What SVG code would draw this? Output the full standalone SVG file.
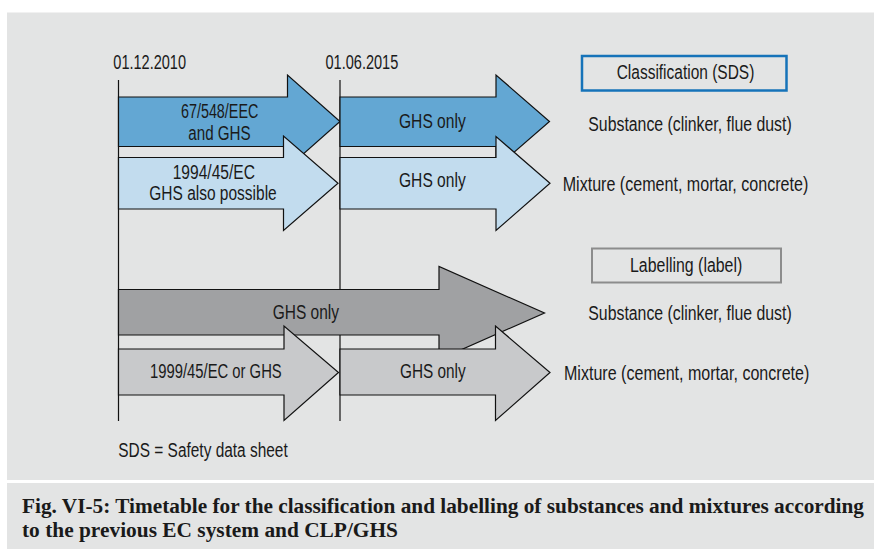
<svg xmlns="http://www.w3.org/2000/svg" width="874" height="549" viewBox="0 0 874 549">
<style>
.t{font-family:"Liberation Sans",Arial,sans-serif;font-size:20px;fill:#1a1a1a}
.cap{font-family:"Liberation Serif","Times New Roman",serif;font-size:20px;font-weight:bold;fill:#1a1a1a}
.ar{stroke:#111;stroke-width:1.2;stroke-linejoin:miter}
.db{fill:#63a7d3}
.lb{fill:#c2dcee}
.dg{fill:#a0a1a3}
.lg{fill:#c8c9cb}
.vl{stroke:#111;stroke-width:1.2}
</style>
<rect x="0" y="0" width="874" height="549" fill="#ffffff"/>
<rect x="7" y="12.5" width="867" height="467.5" fill="#e3e4e4"/>
<rect x="7" y="483" width="867" height="66" fill="#e3e4e4"/>
<g id="connectors">
<line class="vl" x1="118.5" y1="80" x2="118.5" y2="421"/>
<line class="vl" x1="340" y1="80" x2="340" y2="421"/>
</g>
<g id="date1"><text class="t" x="113.3" y="69.3" textLength="72.7" lengthAdjust="spacingAndGlyphs">01.12.2010</text></g>
<g id="date2"><text class="t" x="325.5" y="69.3" textLength="72.8" lengthAdjust="spacingAndGlyphs">01.06.2015</text></g>
<g id="arrowA">
<polygon class="ar db" points="118.5,97 287.5,97 287.5,75 340,121.5 287.5,168 287.5,146.5 118.5,146.5"/>
<text class="t" x="181" y="118.3" textLength="77.3" lengthAdjust="spacingAndGlyphs">67/548/EEC</text>
<text class="t" x="188.3" y="140" textLength="62.4" lengthAdjust="spacingAndGlyphs">and GHS</text>
</g>
<g id="arrowB">
<polygon class="ar lb" points="118.5,157.5 283.5,157.5 283.5,136 338,183.3 283.5,230.5 283.5,209 118.5,209"/>
<text class="t" x="172.7" y="179.3" textLength="82.3" lengthAdjust="spacingAndGlyphs">1994/45/EC</text>
<text class="t" x="149.3" y="200" textLength="127.4" lengthAdjust="spacingAndGlyphs">GHS also possible</text>
</g>
<g id="arrowC">
<polygon class="ar db" points="340,97 496,97 496,75 549.5,121.5 496,168 496,146.5 340,146.5"/>
<text class="t" x="399" y="128.3" textLength="66.7" lengthAdjust="spacingAndGlyphs">GHS only</text>
</g>
<g id="arrowD">
<polygon class="ar lb" points="340,157.5 496,157.5 496,136.5 550,183.3 496,230.5 496,209 340,209"/>
<text class="t" x="399" y="187.3" textLength="66.7" lengthAdjust="spacingAndGlyphs">GHS only</text>
</g>
<g id="arrowE">
<polygon class="ar dg" points="118.5,289.5 439,289.5 439,266.5 544.5,313 439,359.5 439,335 118.5,335"/>
<text class="t" x="272.7" y="319.3" textLength="66.3" lengthAdjust="spacingAndGlyphs">GHS only</text>
</g>
<g id="arrowF">
<polygon class="ar lg" points="118.5,349 284,349 284,326 338.5,372.5 284,420.5 284,395 118.5,395"/>
<text class="t" x="150" y="378.3" textLength="131.7" lengthAdjust="spacingAndGlyphs">1999/45/EC or GHS</text>
</g>
<g id="arrowG">
<polygon class="ar lg" points="340,349 495.5,349 495.5,326 550,372.5 495.5,420.5 495.5,395 340,395"/>
<text class="t" x="400" y="378.3" textLength="65.7" lengthAdjust="spacingAndGlyphs">GHS only</text>
</g>
<g id="classification">
<rect x="582" y="56" width="204.5" height="34.5" fill="#e3e4e4" stroke="#1673b9" stroke-width="2.5"/>
<text class="t" x="616.7" y="79.3" textLength="137.6" lengthAdjust="spacingAndGlyphs">Classification (SDS)</text>
</g>
<g id="substance1"><text class="t" x="588.3" y="130.7" textLength="203.4" lengthAdjust="spacingAndGlyphs">Substance (clinker, flue dust)</text></g>
<g id="mixture1"><text class="t" x="562.7" y="190.7" textLength="245.6" lengthAdjust="spacingAndGlyphs">Mixture (cement, mortar, concrete)</text></g>
<g id="labelling">
<rect x="592" y="248.5" width="189" height="34" fill="#e3e4e4" stroke="#8c8c8c" stroke-width="2"/>
<text class="t" x="630" y="271.7" textLength="112.3" lengthAdjust="spacingAndGlyphs">Labelling (label)</text>
</g>
<g id="substance2"><text class="t" x="588.3" y="320" textLength="203.4" lengthAdjust="spacingAndGlyphs">Substance (clinker, flue dust)</text></g>
<g id="mixture2"><text class="t" x="564" y="380" textLength="245.3" lengthAdjust="spacingAndGlyphs">Mixture (cement, mortar, concrete)</text></g>
<g id="legend"><text class="t" x="118.3" y="456.7" textLength="169.4" lengthAdjust="spacingAndGlyphs">SDS = Safety data sheet</text></g>
<g id="caption">
<text class="cap" x="22" y="512.7" textLength="842" lengthAdjust="spacingAndGlyphs">Fig. VI-5: Timetable for the classification and labelling of substances and mixtures according</text>
<text class="cap" x="22" y="536.5" textLength="376" lengthAdjust="spacingAndGlyphs">to the previous EC system and CLP/GHS</text>
</g>
</svg>
